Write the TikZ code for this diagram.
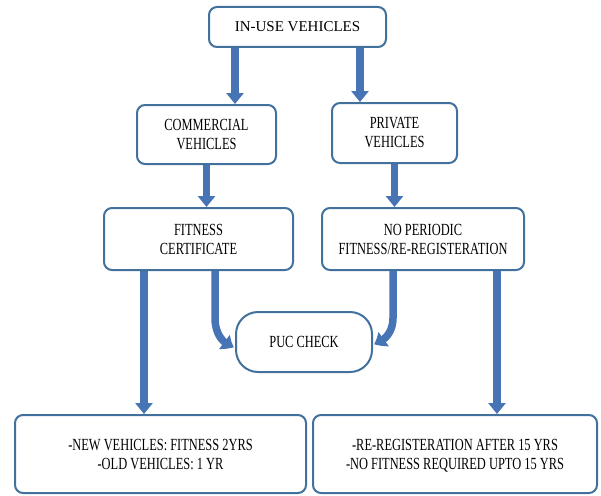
\documentclass[tikz,border=0pt]{standalone}
\usepackage{fontspec}
\setmainfont{Liberation Serif}
\newfontfamily\condfont{Liberation Serif}[FakeStretch=0.73]
\usetikzlibrary{arrows.meta,backgrounds,calc,bending}
\definecolor{boxblue}{HTML}{41719C}
\definecolor{arrblue}{HTML}{4674B4}
\tikzset{
  box/.style={draw=boxblue, line width=2pt, rounded corners=8pt, fill=white,
    inner sep=0pt, align=center, font=\condfont\fontsize{17}{19}\selectfont},
  arr/.style={draw=arrblue, line width=7.5pt, -{Triangle[width=17pt,length=11pt,bend]}}
}
\begin{document}
\begin{tikzpicture}[x=1pt,y=-1pt]
\useasboundingbox (0,0) rectangle (601,495);
\node[box, minimum width=177pt, minimum height=40pt, font=\fontsize{15}{18}\selectfont] (top) at (297.5,27) {IN-USE VEHICLES};
\node[box, minimum width=139pt, minimum height=59pt] (comm) at (206.5,134.5) {COMMERCIAL\\VEHICLES};
\node[box, minimum width=125pt, minimum height=60pt] (priv) at (394.5,133) {PRIVATE\\VEHICLES};
\node[box, minimum width=189pt, minimum height=62pt] (fit) at (198.5,239) {FITNESS\\CERTIFICATE};
\node[box, minimum width=202pt, minimum height=62pt] (nop) at (423,239) {NO PERIODIC\\FITNESS/RE-REGISTERATION};
\node[box, minimum width=136pt, minimum height=60pt, rounded corners=22pt] (puc) at (304,342) {PUC CHECK};
\node[box, minimum width=291pt, minimum height=78pt, text depth=0pt] (bl) at (160.5,454) {-NEW VEHICLES: FITNESS 2YRS\\-OLD VEHICLES: 1 YR};
\node[box, minimum width=284pt, minimum height=78pt, text depth=0pt] (br) at (455,454) {-RE-REGISTERATION AFTER 15 YRS\\-NO FITNESS REQUIRED UPTO 15 YRS};
\coordinate (c1) at (235,0);
\coordinate (c2) at (360,0);
\coordinate (c3) at (144,0);
\coordinate (c4) at (215,0);
\coordinate (c5) at (393,0);
\coordinate (c6) at (497,0);
\begin{scope}[on background layer]
\draw[arr] (top.south -| c1) -- (comm.north -| c1);
\draw[arr] (top.south -| c2) -- (priv.north -| c2);
\draw[arr] (comm.south) -- (fit.north -| comm.south);
\draw[arr] (priv.south) -- (nop.north -| priv.south);
\draw[arr] (fit.south -| c3) -- (bl.north -| c3);
\draw[arr] (nop.south -| c6) -- (br.north -| c6);
\draw[arr] (fit.south -| c4) -- ($(c4 |- puc.west)+(0,-24)$) to[out=-90,in=165] ($(puc.west)+(-1,5)$);
\draw[arr] (nop.south -| c5) -- ($(c5 |- puc.east)+(0,-24)$) to[out=-90,in=15] ($(puc.east)+(1,2)$);
\end{scope}
\end{tikzpicture}
\end{document}
